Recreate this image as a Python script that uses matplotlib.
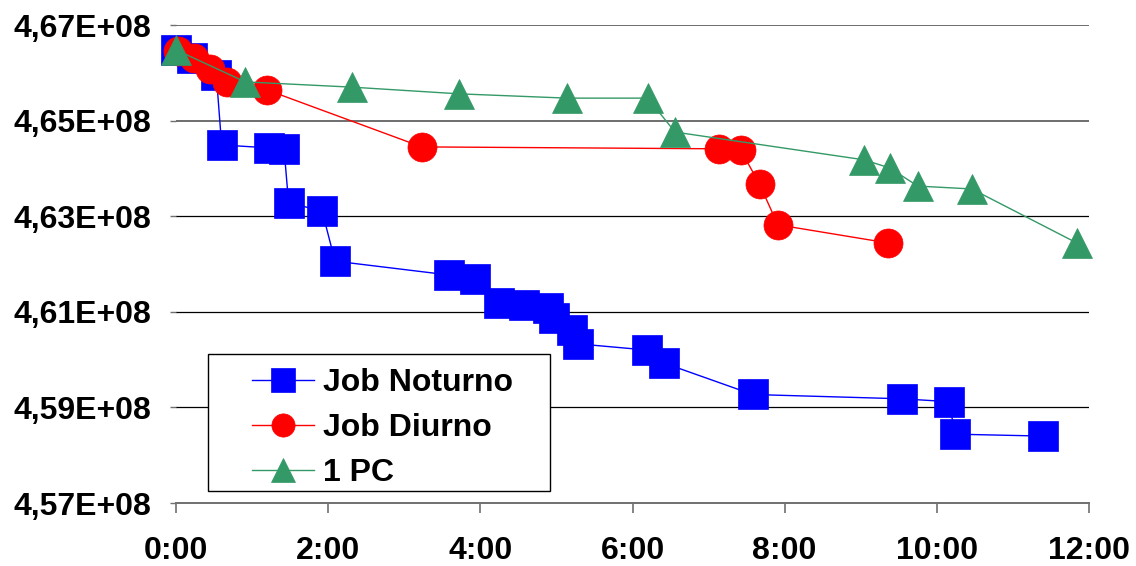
import numpy as np
import matplotlib
matplotlib.use("Agg")
import matplotlib.pyplot as plt
from matplotlib.patches import Rectangle
from matplotlib.ticker import FuncFormatter, FixedLocator

# elapsed time in hours, values in units of 1E+08
noturno_t = [0.00, 0.21, 0.53, 0.60, 1.22, 1.42, 1.48, 1.92, 2.09, 3.59, 3.93, 4.24,
             4.57, 4.89, 4.97, 5.20, 5.28, 6.19, 6.41, 7.58, 9.54, 10.16, 10.24, 11.39]
noturno_v = [4.6648, 4.6631, 4.6595, 4.6449, 4.6443, 4.6441, 4.6328, 4.6311, 4.6206,
             4.6177, 4.6169, 4.6118, 4.6114, 4.6108, 4.6087, 4.6062, 4.6033, 4.6020,
             4.5993, 4.5927, 4.5918, 4.5912, 4.5844, 4.5840]

diurno_t = [0.03, 0.24, 0.45, 0.67, 1.20, 3.23, 7.14, 7.42, 7.67, 7.91, 9.36]
diurno_v = [4.6646, 4.6631, 4.6608, 4.6581, 4.6564, 4.6445, 4.6441, 4.6439,
            4.6367, 4.6282, 4.6244]

pc_t = [0.00, 0.91, 2.31, 3.72, 5.14, 6.20, 6.56, 9.04, 9.38, 9.75, 10.46, 11.84]
pc_v = [4.6648, 4.6581, 4.6570, 4.6556, 4.6547, 4.6547, 4.6476, 4.6418,
        4.6401, 4.6363, 4.6357, 4.6244]

x_ticks = [0, 2, 4, 6, 8, 10, 12]
y_ticks = [4.57, 4.59, 4.61, 4.63, 4.65, 4.67]

plt.rcParams['font.family'] = ['Liberation Sans', 'DejaVu Sans']
plt.rcParams['font.weight'] = 'bold'

fig = plt.figure(figsize=(11.36, 5.66), dpi=100)
ax = fig.add_axes([176 / 1136, 1 - 503 / 566, 913 / 1136, 478 / 566])

ms = 20.9
ax.plot(noturno_t, np.array(noturno_v) * 1e8, color='#0000FF', lw=1, marker='s',
        ms=ms, mec='#0000FF', mew=0.5, label='Job Noturno', clip_on=False, zorder=3)
ax.plot(diurno_t, np.array(diurno_v) * 1e8, color='#FF0000', lw=1, marker='o',
        ms=ms, mec='#FF0000', mew=0.5, label='Job Diurno', clip_on=False, zorder=4)
ax.plot(pc_t, np.array(pc_v) * 1e8, color='#339966', lw=1, marker='^',
        ms=ms, mec='#339966', mew=0.5, label='1 PC', clip_on=False, zorder=5)

ax.set_xlim(0, 12)
ax.set_ylim(4.57e8, 4.67e8)
ax.xaxis.set_major_locator(FixedLocator(x_ticks))
ax.yaxis.set_major_locator(FixedLocator([v * 1e8 for v in y_ticks]))
ax.xaxis.set_major_formatter(FuncFormatter(lambda v, p: f"{int(round(v))}:00"))
ax.yaxis.set_major_formatter(
    FuncFormatter(lambda v, p: f"{v / 1e8:.2f}".replace('.', ',') + "E+08"))

ax.grid(axis='y', color='black', lw=0.9)
ax.set_axisbelow(True)
# upper two gridlines come out grey and a bit heavier
for gl, v in zip(ax.get_ygridlines(), y_ticks):
    if v >= 4.65:
        gl.set_color('#6e6e6e')
        gl.set_linewidth(1.4)
for s in ['top', 'right', 'left']:
    ax.spines[s].set_visible(False)
ax.spines['bottom'].set_color('#707070')
ax.spines['bottom'].set_linewidth(1.4)

ax.tick_params(axis='x', direction='out', length=7.5, width=1.2, color='#707070',
               labelsize=23, pad=16)
ax.tick_params(axis='y', direction='out', length=4, width=1, color='#707070',
               labelsize=23, pad=14)
for lab in ax.get_xticklabels() + ax.get_yticklabels():
    lab.set_fontweight('bold')

leg = ax.legend(loc='upper left', bbox_to_anchor=(0.0832, 0.283), frameon=False,
                prop={'size': 23, 'weight': 'bold'}, handlelength=1.94,
                handletextpad=0.27, labelspacing=0.48, markerscale=0.8,
                borderpad=0.0, borderaxespad=0.0)
leg.set_zorder(6)

# legend frame
ax.add_patch(Rectangle((32 / 913, 12 / 478), 342 / 913, 137 / 478,
                       transform=ax.transAxes, fill=True, facecolor='white',
                       edgecolor='black', lw=1, zorder=5.5, clip_on=False))

fig.savefig('out.png', dpi=100)
